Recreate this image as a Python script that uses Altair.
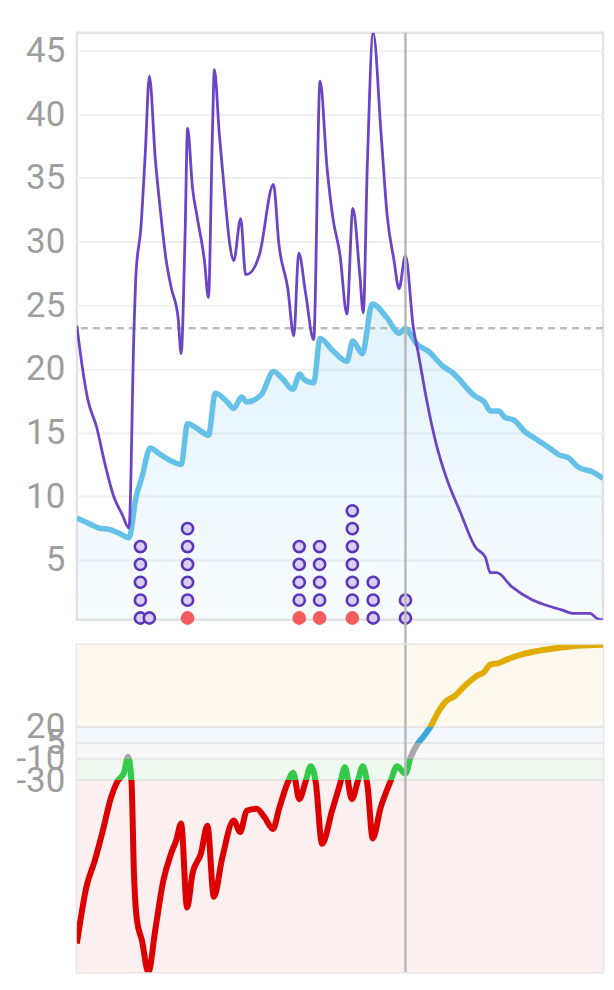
import altair as alt
import pandas as pd

# ---------------- data ----------------
# fatigue (purple line), day index vs value
fatigue_day = [0.0, 1.0, 2.2, 4.0, 5.5, 7.5, 9.1, 10.5, 11.5, 11.9, 12.9, 13.8, 14.6, 15.8, 17.0,
               18.0, 19.0, 20.4, 21.0, 21.8, 22.3, 23.3, 24.3, 25.7, 26.5, 27.3, 27.7, 28.7, 29.9,
               30.8, 31.6, 33.0, 34.0, 34.8, 36.8, 39.6, 40.7, 42.5, 43.7, 44.7, 46.1, 47.7, 49.0,
               50.4, 51.6, 53.0, 54.4, 55.6, 57.0, 57.7, 58.5, 59.7, 61.3, 62.5, 63.9, 64.9, 66.2,
               67.8, 68.8, 70.4, 72.4, 74.4, 77.1, 80.3, 82.3, 83.3, 84.6, 87.6, 91.6, 94.1, 97.5,
               100.1, 103.4, 104.8, 106.0]
fatigue_val = [23.4, 20.4, 17.6, 15.4, 12.8, 9.9, 8.6, 7.5, 23.0, 27.4, 31.1, 37.1, 43.0, 36.5, 31.8,
               28.5, 26.4, 24.0, 21.2, 30.6, 38.9, 34.2, 31.8, 28.5, 25.6, 38.4, 43.5, 38.4, 33.2,
               29.8, 28.5, 31.8, 27.4, 27.5, 29.0, 34.5, 29.8, 26.3, 22.6, 29.1, 25.9, 22.3, 42.6,
               35.8, 31.8, 29.0, 24.3, 32.6, 27.4, 24.4, 35.8, 46.4, 38.4, 32.1, 28.5, 26.3, 28.9,
               23.2, 21.2, 17.7, 14.1, 11.5, 8.9, 6.0, 5.2, 4.0, 4.0, 2.9, 1.9, 1.5, 1.1,
               0.8, 0.8, 0.4, 0.3]

# fitness (blue line + area)
fitness_day = [0.0, 2.2, 4.5, 6.5, 8.5, 10.5, 11.9, 13.1, 14.8, 16.4, 18.4, 21.0, 22.3, 24.3, 26.5,
               27.9, 30.3, 31.6, 33.2, 34.2, 37.2, 39.6, 41.5, 43.5, 44.9, 45.7, 47.7, 49.0, 51.4,
               54.4, 55.6, 57.5, 59.5, 62.5, 64.9, 66.2, 67.4, 68.4, 70.8, 73.8, 75.7, 80.1, 82.1,
               83.3, 85.0, 86.2, 88.0, 90.2, 92.9, 95.9, 96.9, 99.1, 101.0, 104.0, 106.0]
fitness_val = [8.3, 7.9, 7.5, 7.4, 7.1, 6.75, 9.9, 11.5, 13.8, 13.4, 12.9, 12.5, 15.7, 15.3, 14.8,
               18.1, 17.4, 16.9, 17.8, 17.4, 18.0, 19.8, 19.2, 18.4, 19.6, 19.2, 18.9, 22.4, 21.5,
               20.6, 22.2, 21.2, 25.1, 24.0, 22.8, 23.2, 22.6, 22.0, 21.4, 20.2, 19.7, 17.9, 17.4,
               16.7, 16.7, 16.2, 16.0, 15.1, 14.4, 13.6, 13.3, 13.0, 12.3, 11.9, 11.4]

# form % (bottom panel)
form_day = [0.0, 1.9, 3.6, 5.2, 6.9, 8.2, 9.5, 10.3, 11.0, 11.5, 12.1, 13.1, 14.4, 15.8, 17.4,
            19.0, 20.0, 21.0, 22.2, 23.3, 25.0, 26.3, 27.6, 29.3, 31.6, 32.9, 34.2, 36.2, 37.8,
            39.5, 40.8, 42.5, 43.6, 44.8, 46.1, 47.1, 48.1, 49.4, 51.4, 53.0, 54.0, 55.4, 56.6,
            57.6, 58.6, 59.6, 61.2, 63.2, 64.5, 66.2, 67.2, 68.0, 68.8, 70.0, 71.2, 73.1, 74.4,
            76.1, 78.1, 80.7, 82.0, 83.3, 85.0, 86.6, 90.2, 93.5, 96.8, 100.8, 106.0]
form_val = [-184, -131, -106, -78, -46, -31, -23, -8, -31, -118, -162, -181, -211, -171, -125,
            -99, -87, -71, -150, -118, -99, -73, -140, -103, -68, -79, -59, -57, -65,
            -76, -56, -32, -23, -48, -31, -17, -31, -90, -59, -34, -18, -48, -31,
            -17, -37, -85, -56, -31, -17, -24, -9, -1, 5, 12, 20, 36.6, 44.4,
            49, 58.5, 68.5, 71.6, 78.8, 80.3, 83.5, 89.1, 92.2, 94.4, 96.6, 97.5]

# activities (stacked dots); the first dot of a column is a race when flagged
dot_day = [12.8, 14.6, 22.3, 44.8, 48.9, 55.5, 59.7, 66.2]
dot_count = [5, 1, 6, 5, 5, 7, 3, 2]
dot_first_race = [False, False, True, True, True, True, False, False]

today_day = 66.2
today_fitness = 23.2

fit_ticks = [5, 10, 15, 20, 25, 30, 35, 40, 45]
form_ticks = [20, 5, -10, -30]
x_ticks = [2.4, 30.3, 58.2, 86.1]

zone_names = ["high risk", "optimal", "grey zone", "fresh", "transition"]
zone_lo = [-1000, -30, -10, 5, 20]
zone_hi = [-30, -10, 5, 20, 1000]
zone_fill = ["#fcefef", "#eff9f0", "#f8f8f8", "#f2f8fd", "#fdf9ef"]
zone_line = ["#dc0000", "#35c94b", "#a8a8a8", "#3aa7df", "#e1ab00"]

# ---------------- tables ----------------
fat_df = pd.DataFrame({"day": fatigue_day, "fatigue": fatigue_val})
fit_df = pd.DataFrame({"day": fitness_day, "fitness": fitness_val})
form_df = pd.DataFrame({"day": form_day, "form": form_val})
rows = []
for d, n, r in zip(dot_day, dot_count, dot_first_race):
    for i in range(n):
        rows.append({"day": d, "level": i, "kind": "race" if (r and i == 0) else "session"})
dot_df = pd.DataFrame(rows)
zone_df = pd.DataFrame({"zone": zone_names, "lo": zone_lo, "hi": zone_hi})
thr_df = pd.DataFrame({"t": form_ticks})
today_df = pd.DataFrame({"day": [today_day]})
todayfit_df = pd.DataFrame({"v": [today_fitness]})

W, H1, H2, GAP = 527, 588, 328, 25
LABEL = dict(labelFont="Roboto", labelFontSize=35, labelColor="#9e9e9e", labelPadding=12,
             ticks=False, domain=False, title=None, labelOverlap=False,
             labelExpr="'' + datum.value")

x_scale = alt.Scale(domain=[min(fatigue_day), max(fatigue_day)], nice=False, zero=False)
y_top = alt.Scale(domain=[min(fatigue_val), max(fatigue_val)], nice=False, zero=False)
y_top_axis = alt.Axis(values=fit_ticks, grid=True, gridColor="#f0f0f0", gridWidth=2, **LABEL)

area = alt.Chart(fit_df).mark_area(
    interpolate="monotone", clip=True,
    color=alt.Gradient(gradient="linear", x1=0, x2=0, y1=0, y2=1,
                       stops=[alt.GradientStop(color="rgba(110,195,240,0.20)", offset=0),
                              alt.GradientStop(color="rgba(110,195,240,0.05)", offset=1)]),
).encode(x=alt.X("day:Q", scale=x_scale, axis=None),
         y=alt.Y("fitness:Q", scale=y_top, axis=y_top_axis),
         y2=alt.value("height"))

dash = alt.Chart(todayfit_df).mark_rule(color="#bdbdbd", strokeWidth=2.5, strokeDash=[7, 5]).encode(
    y=alt.Y("v:Q", scale=y_top, axis=None))

fit_line = alt.Chart(fit_df).mark_line(interpolate="monotone", clip=True, strokeJoin="round",
                                       color="#66c1e9", strokeWidth=5.5).encode(
    x=alt.X("day:Q", scale=x_scale, axis=None),
    y=alt.Y("fitness:Q", scale=y_top, axis=None))

fat_line = alt.Chart(fat_df).mark_line(interpolate="monotone", clip=True, strokeJoin="round",
                                       color="#6c45c6", strokeWidth=2.8).encode(
    x=alt.X("day:Q", scale=x_scale, axis=None),
    y=alt.Y("fatigue:Q", scale=y_top, axis=None))

dots = alt.Chart(dot_df).mark_circle(size=125, strokeWidth=2.6, opacity=1).encode(
    x=alt.X("day:Q", scale=x_scale, axis=None),
    y=alt.Y("level:Q", scale=alt.Scale(domain=[-0.1, 32.75], nice=False, zero=False), axis=None),
    fill=alt.Fill("kind:N", scale=alt.Scale(domain=["session", "race"], range=["#d9cef4", "#f35d5d"]), legend=None),
    stroke=alt.Stroke("kind:N", scale=alt.Scale(domain=["session", "race"], range=["#5c36b8", "#f35d5d"]), legend=None),
)

today_top = alt.Chart(today_df).mark_rule(color="#b8b8b8", strokeWidth=2.5).encode(
    x=alt.X("day:Q", scale=x_scale, axis=None),
    y=alt.value(0), y2=alt.value(H1 + GAP))

top = alt.layer(area, dash, fit_line, fat_line, dots, today_top).resolve_scale(
    y="independent").properties(width=W, height=H1)

# ---------------- bottom panel ----------------
fmax, fmin = max(form_val), min(form_val)
y_bot = alt.Scale(domain=[fmin, fmax], nice=False, zero=False, clamp=True)
y_bot_axis = alt.Axis(values=form_ticks, grid=False, **LABEL)


def off(t):
    return (fmax - t) / (fmax - fmin)


edges = [fmax] + sorted(form_ticks, reverse=True) + [fmin]
stops = []
for i, c in enumerate(reversed(zone_line)):
    stops.append(alt.GradientStop(color=c, offset=off(edges[i])))
    stops.append(alt.GradientStop(color=c, offset=off(edges[i + 1])))

bands = alt.Chart(zone_df).mark_rect().encode(
    x=alt.value(0), x2=alt.value("width"),
    y=alt.Y("lo:Q", scale=y_bot, axis=y_bot_axis), y2="hi:Q",
    fill=alt.Fill("zone:N", scale=alt.Scale(domain=zone_names, range=zone_fill), legend=None))

bounds_rules = alt.Chart(thr_df).mark_rule(color="#e6e6e6", strokeWidth=2).encode(
    y=alt.Y("t:Q", scale=y_bot, axis=y_bot_axis))

form_line = alt.Chart(form_df).mark_line(
    interpolate="monotone", strokeWidth=6, clip=True, strokeJoin="round",
    stroke=alt.Gradient(gradient="linear", x1=0, x2=0, y1=0, y2=1, stops=stops),
).encode(
    x=alt.X("day:Q", scale=x_scale,
            axis=alt.Axis(values=x_ticks, labels=False, domain=False, grid=False, ticks=True,
                          tickSize=5, tickColor="#ececec", tickWidth=3, title=None)),
    y=alt.Y("form:Q", scale=y_bot, axis=y_bot_axis))

today_bot = alt.Chart(today_df).mark_rule(color="#b8b8b8", strokeWidth=2.5).encode(
    x=alt.X("day:Q", scale=x_scale, axis=None),
    y=alt.value(0), y2=alt.value(H2))

bottom = alt.layer(bands, bounds_rules, form_line, today_bot).properties(width=W, height=H2)

chart = alt.vconcat(top, bottom, spacing=GAP, bounds="flush").resolve_scale(
    fill="independent", stroke="independent"
).properties(
    padding={"left": 6, "top": 21, "right": 0, "bottom": 0}
).configure_view(stroke="#e3e3e3", strokeWidth=2.5)

chart.save("out.html", embed_options={"renderer": "svg", "actions": False})
